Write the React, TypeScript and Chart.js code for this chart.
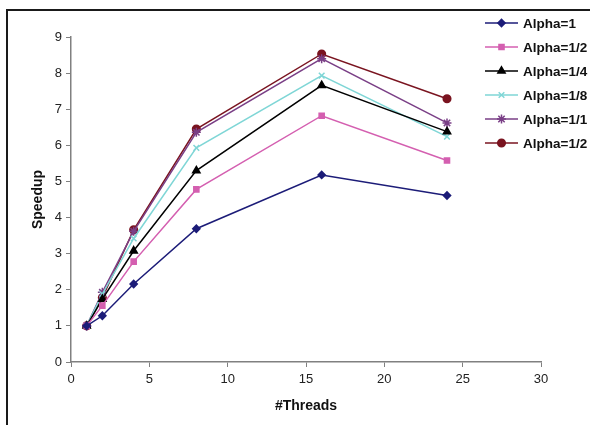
import React, { useEffect, useRef } from "react";
import { Chart, registerables } from "chart.js";
import { drawPoint } from "chart.js/helpers";

Chart.register(...registerables);

const threads = [1, 2, 4, 8, 16, 24];
const seriesLabels = ["Alpha=1", "Alpha=1/2", "Alpha=1/4", "Alpha=1/8", "Alpha=1/1", "Alpha=1/2"];
const alpha1 = [1, 1.28, 2.16, 3.69, 5.18, 4.61];
const alpha2 = [1, 1.56, 2.78, 4.78, 6.82, 5.58];
const alpha4 = [1, 1.74, 3.08, 5.3, 7.66, 6.38];
const alpha8 = [1, 1.88, 3.42, 5.93, 7.93, 6.24];
const alpha1b = [1, 1.93, 3.62, 6.36, 8.4, 6.62];
const alpha2b = [1, 1.78, 3.66, 6.45, 8.53, 7.29];
const xTicks = [0, 5, 10, 15, 20, 25, 30];
const yTicks = [0, 1, 2, 3, 4, 5, 6, 7, 8, 9];

const seriesValues = [alpha1, alpha2, alpha4, alpha8, alpha1b, alpha2b];
const colors = ["#1c1c78", "#d45fb0", "#000000", "#7fd6d6", "#7a3f86", "#7a1420"];
const markers = ["rectRot", "rect", "triangle", "crossRot", "star", "circle"];
const radii = [3.6, 3.6, 4.2, 4, 4.5, 3.8];

const FONT = "'Liberation Sans', Arial, sans-serif";

const framePlugin = {
  id: "frameAndLegend",
  afterDraw(c: any) {
    const ctx = c.ctx;
    ctx.save();
    ctx.strokeStyle = "#1a1a1a";
    ctx.lineWidth = 2;
    ctx.beginPath();
    ctx.moveTo(6, 10);
    ctx.lineTo(590, 10);
    ctx.moveTo(7, 10);
    ctx.lineTo(7, 425);
    ctx.stroke();
    c.data.datasets.forEach((ds: any, i: number) => {
      const y = 23 + i * 24;
      const x0 = 485;
      const x1 = 518;
      ctx.strokeStyle = ds.borderColor;
      ctx.lineWidth = 1.5;
      ctx.beginPath();
      ctx.moveTo(x0, y);
      ctx.lineTo(x1, y);
      ctx.stroke();
      ctx.fillStyle = ds.pointBackgroundColor;
      ctx.strokeStyle = ds.pointBorderColor;
      ctx.lineWidth = 1.5;
      drawPoint(
        ctx,
        { pointStyle: ds.pointStyle, radius: ds.pointRadius, borderWidth: 1.5, rotation: 0 } as any,
        (x0 + x1) / 2,
        y
      );
      ctx.fillStyle = "#111";
      ctx.font = `bold 13.5px ${FONT}`;
      ctx.textBaseline = "middle";
      ctx.textAlign = "left";
      ctx.fillText(ds.label, 523, y + 1);
    });
    ctx.restore();
  },
};

export default function App() {
  const ref = useRef<HTMLCanvasElement>(null);

  useEffect(() => {
    if (!ref.current) return;
    const datasets = seriesValues.map((vals, i) => ({
      label: seriesLabels[i],
      data: threads.map((t, j) => ({ x: t, y: vals[j] })),
      borderColor: colors[i],
      backgroundColor: colors[i],
      pointBackgroundColor: colors[i],
      pointBorderColor: colors[i],
      pointStyle: markers[i],
      pointRadius: radii[i],
      pointBorderWidth: 1.5,
      borderWidth: 1.5,
      tension: 0,
      fill: false,
    }));

    const chart = new Chart(ref.current, {
      type: "line",
      data: { datasets },
      options: {
        responsive: false,
        animation: false,
        layout: { padding: { top: 37, right: 49, left: 0, bottom: 0 } },
        plugins: {
          legend: { display: false },
          tooltip: { enabled: false },
        },
        scales: {
          x: {
            type: "linear",
            min: 0,
            max: 30,
            afterBuildTicks: (scale: any) => {
              scale.ticks = xTicks.map((v) => ({ value: v }));
            },
            afterFit: (scale: any) => {
              scale.height = 63;
            },
            grid: {
              display: true,
              drawOnChartArea: false,
              drawTicks: true,
              tickLength: 5,
              color: "#808080",
            },
            border: { display: true, color: "#808080", width: 1.5 },
            ticks: {
              color: "#222",
              font: { family: FONT, size: 13 },
              padding: 5,
              maxRotation: 0,
            },
            title: {
              display: true,
              text: "#Threads",
              color: "#111",
              font: { family: FONT, size: 14, weight: "bold" },
              padding: { top: 0, bottom: 10.6 },
            },
          },
          y: {
            type: "linear",
            min: 0,
            max: 9,
            afterBuildTicks: (scale: any) => {
              scale.ticks = yTicks.map((v) => ({ value: v }));
            },
            afterFit: (scale: any) => {
              scale.width = 71;
            },
            grid: {
              display: true,
              drawOnChartArea: false,
              drawTicks: true,
              tickLength: 5,
              color: "#808080",
            },
            border: { display: true, color: "#808080", width: 1.5 },
            ticks: {
              color: "#222",
              font: { family: FONT, size: 13 },
              padding: 4,
            },
            title: {
              display: true,
              text: "Speedup",
              color: "#111",
              font: { family: FONT, size: 14, weight: "bold" },
              padding: { top: 29.6, bottom: 0 },
            },
          },
        },
      },
      plugins: [framePlugin],
    } as any);
    return () => chart.destroy();
  }, []);

  return (
    <div style={{ position: "fixed", left: 0, top: 0, width: 590, height: 425, background: "#fff" }}>
      <canvas ref={ref} width={590} height={425} style={{ width: 590, height: 425 }} />
    </div>
  );
}
